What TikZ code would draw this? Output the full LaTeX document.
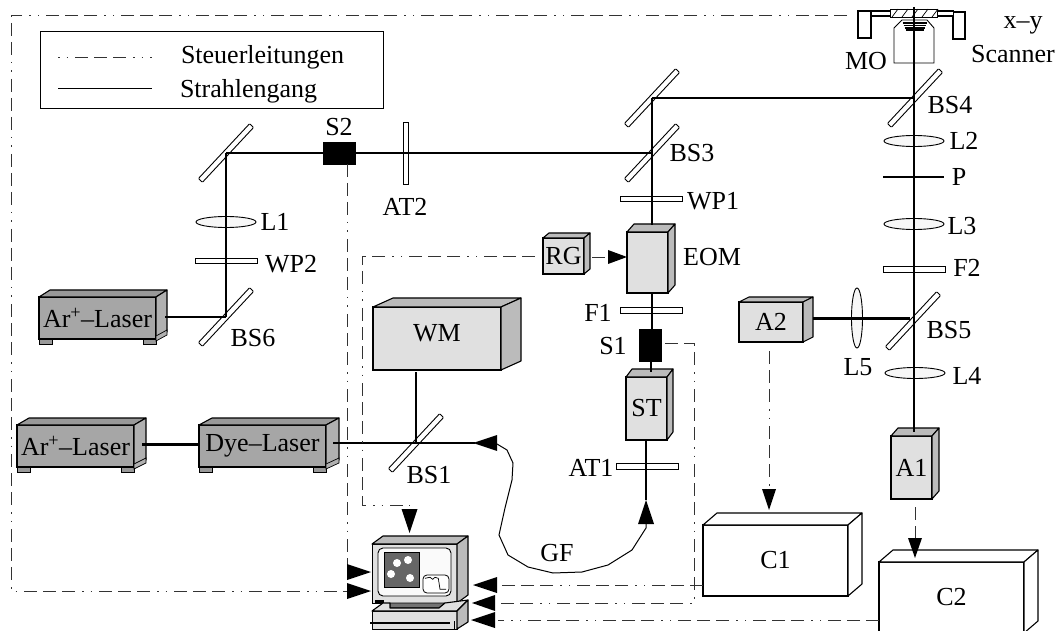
\documentclass[tikz,border=0pt]{standalone}
\usepackage{fontspec}
\setmainfont{Liberation Serif}
\usetikzlibrary{shapes.geometric,arrows.meta}
\definecolor{lightF}{HTML}{E0E0E0}
\definecolor{lightS}{HTML}{BBBBBB}
\definecolor{lightT}{HTML}{BBBBBB}
\definecolor{darkF}{HTML}{A6A6A6}
\definecolor{darkS}{HTML}{B0B0B0}
\definecolor{darkT}{HTML}{999999}
\definecolor{plainF}{HTML}{FFFFFF}
\definecolor{plainS}{HTML}{FFFFFF}
\definecolor{plainT}{HTML}{FFFFFF}
\definecolor{ctrlc}{HTML}{333333}
\tikzset{
  lab/.style={inner sep=0pt,outer sep=0pt,font=\fontsize{26}{29}\selectfont},
  boxface/.style={draw=black,line width=1.1pt,inner sep=0pt,outer sep=0pt,align=center,font=\fontsize{26}{29}\selectfont},
  mirror/.style={draw=black,fill=white,line width=.9pt,rectangle,rounded corners=.8pt,minimum width=#1,minimum height=5.5pt,inner sep=0pt,outer sep=0pt},
  mirror/.default=75pt,
  hplate/.style={draw=black,fill=white,line width=.9pt,rectangle,minimum width=62pt,minimum height=5.5pt,inner sep=0pt,outer sep=0pt},
  lens/.style={draw=black,fill=white!97!black,line width=.9pt,ellipse,minimum width=60pt,minimum height=11pt,inner sep=0pt,outer sep=0pt},
  vlens/.style={draw=black,fill=white!97!black,line width=.9pt,ellipse,minimum width=11pt,minimum height=60pt,inner sep=0pt,outer sep=0pt},
  shutter/.style={fill=black,draw=black,rectangle,inner sep=0pt,outer sep=0pt},
  beam/.style={line width=1.6pt,black},
  thickbeam/.style={line width=3pt,black},
  fiber/.style={line width=1pt,black},
  ctrl/.style={line width=.8pt,ctrlc,dash pattern=on 13pt off 6pt on 13pt off 6pt on 13pt off 7pt on 1.5pt off 7pt on 1.5pt off 7pt},
  facefine/.style={draw=black,line width=1.1pt,line join=round},
  scan/.style={draw=black,line width=1.8pt,fill=white},
}
\newcommand{\boxd}[9]{%
  \pgfmathsetmacro{\cxx}{(#2+#4)/2}\pgfmathsetmacro{\cyy}{(#3+#5)/2}%
  \pgfmathsetmacro{\www}{#4-#2}\pgfmathsetmacro{\hhh}{#5-#3}%
  \node[boxface,fill=#8F,minimum width=\www pt,minimum height=\hhh pt] (#1) at (\cxx,\cyy) {#9};
  \draw[facefine,fill=#8T] (#1.north west) -- ++(#6,-#7) -- ++(\www,0) -- (#1.north east) -- cycle;
  \draw[facefine,fill=#8S] (#1.north east) -- ++(#6,-#7) -- ++(0,\hhh) -- (#1.south east) -- cycle;
}
\newcommand{\feet}[3]{%
  \fill[darkT,draw=black,line width=.7pt] (#1.south west) rectangle ++(13,5);
  \fill[darkT,draw=black,line width=.7pt] (#1.south east) rectangle ++(-13,5);
  \draw[line width=.7pt,fill=darkS] (#1.south east) ++(#2,-#3) ++(0,3) -- ++(-#2,6) -- ++(0,-5) -- ++(#2,-6) -- cycle;
}
\begin{document}
\begin{tikzpicture}[x=1pt,y=-1pt]
\clip (0,0) rectangle (1061,631);
\useasboundingbox (0,0) rectangle (1061,631);
% legend
\node[draw=black,line width=.9pt,minimum width=343pt,minimum height=77pt,inner sep=0pt,outer sep=0pt] (legend) at (211.5,69.5) {};
\coordinate (la) at (58,57); \coordinate (lb) at (152,57);
\coordinate (lc) at (58,89); \coordinate (ld) at (152,89);
\draw[line width=.8pt,ctrlc,dash pattern=on 1.5pt off 7pt on 1.5pt off 7pt on 13pt off 6pt on 13pt off 6pt on 13pt off 7pt on 1.5pt off 7pt on 1.5pt off 7pt] (la) -- (lb);
\draw[line width=1pt] (lc) -- (ld);
\node[lab,anchor=west] (tSteuer) at (181,57) {Steuerleitungen};
\node[lab,anchor=west] (tStrahl) at (180,91) {Strahlengang};
% optics left
\node[mirror,rotate=47] (M1) at (226,153) {};
\node[mirror,rotate=47] (BS6) at (226,317) {};
\node[lens] (L1) at (226,222) {};
\node[hplate] (WP2) at (226,261) {};
\node[shutter,minimum width=32pt,minimum height=22pt] (S2) at (339,153) {};
\node[hplate,rotate=90] (AT2) at (406,153) {};
% middle column
\node[mirror,rotate=47] (M2) at (652,98) {};
\node[mirror,rotate=47] (BS3) at (652,153) {};
\node[hplate] (WP1) at (651,199) {};
\node[hplate] (F1) at (651,310.5) {};
\node[hplate] (AT1) at (647,466.5) {};
\node[shutter,minimum width=22pt,minimum height=32pt] (S1) at (650,345) {};
% right column
\node[mirror,rotate=47] (BS4) at (915,98) {};
\node[lens] (L2) at (914,141) {};
\coordinate (Pa) at (883,177); \coordinate (Pb) at (944,177);
\node[lens] (L3) at (914,224) {};
\node[hplate] (F2) at (914,269.5) {};
\node[mirror,rotate=47] (BS5) at (913,321) {};
\node[vlens] (L5) at (857,318) {};
\node[lens] (L4) at (915,373) {};
\node[mirror,rotate=47] (BS1) at (416,443) {};
% boxes
\boxd{LaserA}{39}{297}{156}{339}{11}{7}{dark}{Ar\textsuperscript{+}–Laser}
\feet{LaserA}{11}{7}
\boxd{LaserB}{17}{425}{134}{467}{12}{7}{dark}{Ar\textsuperscript{+}–Laser}
\feet{LaserB}{12}{7}
\boxd{Dye}{199}{425}{326}{467}{13}{7}{dark}{Dye–Laser}
\feet{Dye}{13}{7}
\boxd{WM}{373}{307}{501}{370}{20}{9}{light}{\raisebox{12pt}{WM}}
\boxd{RG}{543}{238}{584}{274}{6}{5}{light}{RG}
\boxd{EOM}{627}{232}{668}{293}{7}{8}{light}{}
\boxd{ST}{626}{377}{667}{440}{6}{8}{light}{ST}
\boxd{Atwo}{739}{302}{803}{342}{10}{5}{light}{A2}
\boxd{Aone}{891}{436}{932}{499}{7}{8}{light}{A1}
\boxd{Cone}{703}{525}{848}{596}{14}{12}{plain}{C1}
\boxd{Ctwo}{879}{562}{1024}{633}{14}{12}{plain}{\raisebox{1pt}{C2}}
% microscope objective and scanner
\draw[line width=.9pt,fill=white] (894,63) -- (894,28) -- (902,20) -- (927,20) -- (934,28) -- (934,63) -- cycle;
\foreach \yy/\ww in {23/12,25.5/11,28/10,30/9}{\draw[line width=1.1pt] (914.5-\ww,\yy) -- (914.5+\ww,\yy);}
\node[scan,minimum width=13pt,minimum height=27pt,inner sep=0pt,outer sep=0pt] (ScL) at (864.5,24.5) {};
\node[scan,minimum width=12pt,minimum height=27pt,inner sep=0pt,outer sep=0pt] (ScR) at (959,25.5) {};
\node[draw=black,line width=1.2pt,fill=white,minimum width=19pt,minimum height=5pt,inner sep=0pt,outer sep=0pt] (ArmL) at (881,13.5) {};
\node[draw=black,line width=1.2pt,fill=white,minimum width=19pt,minimum height=5pt,inner sep=0pt,outer sep=0pt] (ArmR) at (944,13.5) {};
\node[draw=black,line width=.8pt,fill=white,minimum width=47pt,minimum height=8pt,inner sep=0pt,outer sep=0pt] (Bar) at (913.5,13) {};
\foreach \xx in {892,902,912,922,932}{\draw[line width=.7pt] (\xx,17) -- (\xx+6,9);}
% computer
\node[draw=black,line width=1pt,fill=lightF,minimum width=85pt,minimum height=59pt,inner sep=0pt,outer sep=0pt] (PC) at (414.5,573.5) {};
\draw[facefine,fill=lightS] (PC.north west) -- ++(11,-8) -- ++(85,0) -- (PC.north east) -- cycle;
\draw[facefine,fill=lightS] (PC.north east) -- ++(11,-8) -- ++(0,59) -- (PC.south east) -- cycle;
\node[draw=black,line width=.9pt,fill=white!98!black,rounded corners=5pt,minimum width=73pt,minimum height=48pt,inner sep=0pt,outer sep=0pt] (Scr) at (414.5,572) {};
\node[draw=black,line width=.8pt,fill=black!60,minimum width=35pt,minimum height=35pt,inner sep=0pt,outer sep=0pt] (Dots) at (401.5,569.5) {};
\foreach \dx/\dy in {397/563,408/560,391/574,410/578}{\fill[white] (\dx,\dy) circle[radius=4];}
\node[draw=black,line width=.8pt,fill=white,rounded corners=4pt,minimum width=26pt,minimum height=18pt,inner sep=0pt,outer sep=0pt] (Wave) at (436,584) {};
\draw[line width=.7pt] (425,578.3) -- (430,577.3) -- (432.7,579.3) -- (435,577.3) -- (438.3,578.3) -- (440,589.3) -- (446,589.3);
\fill[black] (375,600) rectangle (384,603);
\draw[line width=.8pt,fill=black!55] (390,603) -- (445,603) -- (439,608) -- (390,608) -- cycle;
\node[draw=black,line width=1pt,fill=lightF,minimum width=85pt,minimum height=18pt,inner sep=0pt,outer sep=0pt] (Base) at (414.5,620) {};
\draw[facefine,fill=lightF] (Base.north west) -- (383,603) -- (390,603) -- (390,608) -- (439,608) -- (445,603) -- (468,600) -- (Base.north east) -- cycle;
\draw[facefine,fill=lightS] (Base.north east) -- (468,600) -- (468,622) -- (Base.south east) -- cycle;
\draw[line width=1.6pt] (370,623) -- (450,623);
\draw[line width=.6pt] (454,621) -- (454,629);
% beams
\draw[beam] (M1.center) -- (S2.west);
\draw[beam] (S2.east) -- (BS3.center);
\draw[beam] (M1.center) -- (BS6.center);
\coordinate (lasAout) at (165,317);
\draw[beam] (lasAout) -- (BS6.center);
\coordinate (lasBout) at (142,444);
\coordinate (dyeIn) at (199,444);
\draw[thickbeam] (lasBout) -- (dyeIn);
\coordinate (dyeOut) at (333,443);
\coordinate (fibEnd) at (475,443);
\draw[beam] (dyeOut) -- (fibEnd);
\draw[beam] (BS1.center |- WM.south) ++(0,2) -- (BS1.center);
\coordinate (eomTop) at (652,225);
\draw[beam] (M2.center) -- (BS4.center);
\draw[beam] (M2.center) -- (eomTop);
\draw[beam] (EOM.south -| M2.center) -- (S1.north -| M2.center);
\coordinate (stTop) at (651,372);
\draw[beam] (S1.south -| stTop) -- (stTop);
\coordinate (scanTop) at (914,7);
\coordinate (aTop) at (914,432);
\draw[beam] (scanTop) -- (aTop);
\coordinate (a2out) at (813,319);
\coordinate (a2in) at (910,319);
\draw[thickbeam] (a2out) -- (a2in);
\draw[line width=1.8pt] (Pa) -- (Pb);
% fibre
\coordinate (fibA) at (646,440);
\coordinate (fibT) at (646,500);
\coordinate (fibB) at (646,524);
\draw[beam] (fibA) -- (fibT);
\fill[black] (fibT) -- (654,524) -- (638,524) -- cycle;
\draw[fiber] (fibB) -- (646,528) -- (632,550) -- (608,565) -- (582,572) -- (553,573) -- (528,567) -- (508,555) -- (499,535) -- (505,508) -- (512,480) -- (513,463) -- (507,450) -- (497,444);
\fill[black] (473,443) -- (497,435) -- (497,451) -- cycle;
% control lines
\coordinate (outerStart) at (847,15);
\coordinate (outerA) at (11,15);
\coordinate (outerB) at (11,591);
\coordinate (pcB) at (371,591);
\draw[ctrl] (outerStart) -- (outerA) -- (outerB) -- (347,591);
\fill[black] (pcB) -- (347,583) -- (347,599) -- cycle;
\coordinate (pcA) at (371,572);
\coordinate (pcAc) at (347,572);
\draw[ctrl] (S2.south -| pcAc) -- (pcAc);
\fill[black] (pcA) -- (347,564) -- (347,580) -- cycle;
\coordinate (rgA) at (362,256);
\coordinate (rgB) at (362,505);
\coordinate (rgC) at (409.5,505);
\coordinate (rgD) at (409.5,533);
\draw[ctrl,shorten <=8pt] (RG.west) -- (rgA) -- (rgB) -- (rgC);
\fill[black] (rgD) -- (401.5,509) -- (417.5,509) -- cycle;
\coordinate (eomIn) at (627,257);
\draw[ctrl,shorten <=8pt] (RG.east |- eomIn) -- (608,257);
\fill[black] (eomIn) -- (608,250) -- (608,264) -- cycle;
\coordinate (sOneA) at (694,343);
\coordinate (sOneB) at (694,603);
\coordinate (pcC) at (472,603);
\draw[ctrl,shorten <=4pt] (S1.east |- sOneA) -- (sOneA) -- (sOneB) -- (495,603);
\fill[black] (pcC) -- (495,595) -- (495,611) -- cycle;
\coordinate (pcD) at (473,585);
\coordinate (coneL) at (703,585);
\draw[ctrl] (coneL) -- (500,585);
\fill[black] (pcD) -- (497,577) -- (497,593) -- cycle;
\coordinate (pcE) at (471,620);
\coordinate (ctwoL) at (879,620);
\draw[ctrl] (ctwoL) -- (498,620);
\fill[black] (pcE) -- (495,612) -- (495,628) -- cycle;
\coordinate (cOneTip) at (769,510);
\draw[ctrl,shorten <=9pt] (Atwo.south -| cOneTip) -- (769,489);
\fill[black] (cOneTip) -- (762,489) -- (776,489) -- cycle;
\coordinate (cTwoTip) at (915,558);
\draw[ctrl,shorten <=8pt] (Aone.south -| cTwoTip) -- (915,538);
\fill[black] (cTwoTip) -- (908,538) -- (922,538) -- cycle;
% labels
\node[lab] (tS2) at (339,127) {S2};
\node[lab] (tAT2) at (405,207) {AT2};
\node[lab] (tL1) at (275,222) {L1};
\node[lab] (tWP2) at (291,264) {WP2};
\node[lab] (tBS6) at (253,338) {BS6};
\node[lab] (tBS3) at (692,153) {BS3};
\node[lab] (tWP1) at (713,201) {WP1};
\node[lab] (tEOM) at (712,257) {EOM};
\node[lab] (tF1) at (598,313) {F1};
\node[lab] (tS1) at (613,346) {S1};
\node[lab] (tAT1) at (591,468) {AT1};
\node[lab] (tBS1) at (429,475) {BS1};
\node[lab] (tGF) at (557,553) {GF};
\node[lab] (tMO) at (866,61) {MO};
\node[lab] (tXY) at (1023,25) {x–y};
\node[lab] (tScan) at (1013,54) {Scanner};
\node[lab] (tBS4) at (950,105) {BS4};
\node[lab] (tL2) at (964,141) {L2};
\node[lab] (tP) at (959,177) {P};
\node[lab] (tL3) at (962,226) {L3};
\node[lab] (tF2) at (967,268) {F2};
\node[lab] (tBS5) at (949,330) {BS5};
\node[lab] (tL5) at (858,367) {L5};
\node[lab] (tL4) at (967,376) {L4};
\end{tikzpicture}
\end{document}
